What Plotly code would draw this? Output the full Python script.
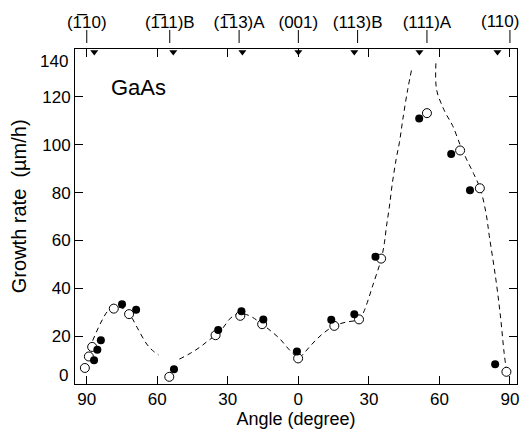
import plotly.graph_objects as go

# ---- data (angle in degrees: negative = toward [-110] side, positive = toward [110] side)
FILLED_ANGLE = [-86.9, -85.5, -84.0, -75.0, -69.0, -52.9, -34.1, -24.2, -14.9, -0.6,
                14.0, 23.8, 32.8, 51.4, 65.0, 73.0, 83.7]
FILLED_RATE = [9.9, 14.3, 18.3, 33.3, 31.0, 6.2, 22.6, 30.4, 27.0, 13.6,
               26.8, 29.2, 53.2, 111.0, 96.1, 81.0, 8.3]

OPEN_ANGLE = [-90.8, -89.1, -87.7, -78.5, -72.0, -54.9, -35.2, -24.7, -15.4, -0.1,
              15.3, 25.8, 35.2, 54.7, 68.8, 77.2, 88.5]
OPEN_RATE = [6.7, 11.5, 15.5, 31.5, 29.2, 3.0, 20.4, 28.5, 25.0, 10.7,
             24.3, 27.0, 52.4, 113.2, 97.6, 81.8, 5.1]

# dashed guide curves (traced)
GUIDE_A_X = [-89.8, -88.3, -86, -83.3, -81, -78.5, -76, -73.5, -71, -68.5, -64.5, -62, -59.5]
GUIDE_A_Y = [11, 16, 21.5, 27, 30.5, 31.8, 32, 31, 28, 23.5, 16.7, 14, 12.2]

GUIDE_B_X = [-50.6, -46, -42, -38.5, -35.2, -32, -29.4, -27, -24.5, -22, -19.4, -15.4, -11.5,
             -7.7, -4.5, -2, 0, 2.5, 5, 7.8, 11, 15.3, 20, 25.8, 27.5, 28.8, 31.6, 35.3,
             36.6, 37.5, 38.7, 40, 41.6, 43, 44.4, 46.5, 48.3]
GUIDE_B_Y = [10.4, 12.8, 15.3, 18, 20.4, 23.5, 27, 28.8, 29.5, 29, 27.8, 25, 22,
             18.7, 15, 12.5, 10.8, 13, 15.8, 18.7, 21.5, 24.3, 25.8, 27, 29.5, 32.6, 41, 52.4,
             59, 66, 74, 84, 94, 101, 110.4, 123, 132]

GUIDE_C_X = [58.5, 58.8, 61.3, 63, 65.6, 68.8, 71.5, 74.5, 77.4, 79.8, 81.2, 84.0, 86, 87.5, 88.6]
GUIDE_C_Y = [134, 123, 116, 112.5, 108, 100, 94, 88, 81.5, 71.5, 62, 43.8, 28, 13.2, 5]

# bottom axis ticks
X_TICKS = [-90, -60, -30, 0, 30, 60, 90]
X_TICKTEXT = ["90", "60", "30", "0", "30", "60", "90"]
Y_TICKS = [0, 20, 40, 60, 80, 100, 120, 140]

# top axis: crystal planes
OVL = "\u0305"
PLANE_ANGLES = [-90, -54.7, -25.2, 0, 25.2, 54.7, 90]
PLANE_LABELS = ["(1" + OVL + "10)", "(1" + OVL + "11)B", "(1" + OVL + "13)A",
                "(001)", "(113)B", "(111)A", "(110)"]
# sample orientation marks (triangles on top axis)
SAMPLE_ANGLES = [-86.8, -53.2, -23.8, 0.0, 23.8, 51.5, 84.7]

X_RANGE = [-95, 93]
Y_RANGE = [0, 140]

FONT = "Liberation Sans, Arial, sans-serif"

fig = go.Figure()

dash_line = dict(color="black", width=1, dash="5px,4px", shape="spline", smoothing=1.0)
for gx, gy in [(GUIDE_A_X, GUIDE_A_Y), (GUIDE_B_X, GUIDE_B_Y), (GUIDE_C_X, GUIDE_C_Y)]:
    fig.add_trace(go.Scatter(x=gx, y=gy, mode="lines", line=dash_line,
                             showlegend=False, hoverinfo="skip"))

fig.add_trace(go.Scatter(x=OPEN_ANGLE, y=OPEN_RATE, mode="markers",
                         marker=dict(symbol="circle", size=9, color="white",
                                     line=dict(color="black", width=1)),
                         showlegend=False))
fig.add_trace(go.Scatter(x=FILLED_ANGLE, y=FILLED_RATE, mode="markers",
                         marker=dict(symbol="circle", size=8, color="black",
                                     line=dict(color="black", width=0)),
                         showlegend=False))

# triangles hanging from the top frame
fig.add_trace(go.Scatter(x=SAMPLE_ANGLES, y=[Y_RANGE[1] - 1.3] * len(SAMPLE_ANGLES),
                         mode="markers", cliponaxis=False,
                         marker=dict(symbol="triangle-down", size=7, color="black"),
                         showlegend=False, hoverinfo="skip"))

# dummy trace for top axis
fig.add_trace(go.Scatter(x=[PLANE_ANGLES[0]], y=[None], xaxis="x2", showlegend=False,
                         hoverinfo="skip"))

# top plane tick marks (detached from the frame)
shapes = [dict(type="line", xref="x", yref="paper", ysizemode="pixel", yanchor=1,
               x0=a, x1=a, y0=6, y1=19, line=dict(color="black", width=1))
          for a in PLANE_ANGLES]

# last plane label is placed so it stays inside the page
top_ticktext = PLANE_LABELS[:-1] + [""]

fig.update_layout(
    width=522, height=435,
    margin=dict(l=75, r=5, t=49, b=51, autoexpand=False),
    paper_bgcolor="white", plot_bgcolor="white",
    font=dict(family=FONT, size=17, color="black"),
    shapes=shapes,
    xaxis=dict(range=X_RANGE, tickvals=X_TICKS, ticktext=X_TICKTEXT,
               ticks="inside", ticklen=8, tickwidth=1, tickcolor="black",
               showline=True, linecolor="black", linewidth=1, mirror="ticks",
               showgrid=False, zeroline=False, automargin=False,
               tickfont=dict(size=17),
               title=dict(text="Angle (degree)", font=dict(size=18), standoff=2)),
    xaxis2=dict(range=X_RANGE, overlaying="x", side="top", anchor="y",
                tickvals=PLANE_ANGLES, ticktext=top_ticktext,
                ticks="outside", ticklen=13, tickwidth=1, tickcolor="rgba(0,0,0,0)",
                showline=False, showgrid=False, zeroline=False, automargin=False,
                tickfont=dict(size=17)),
    yaxis=dict(range=Y_RANGE, tickvals=Y_TICKS[1:-1],
               ticks="inside", ticklen=8, tickwidth=1, tickcolor="black",
               showline=True, linecolor="black", linewidth=1, mirror="ticks",
               showgrid=False, zeroline=False, automargin=False, tickfont=dict(size=17)),
    annotations=[
        dict(text="GaAs", x=-68, y=124, xref="x", yref="y", showarrow=False,
             font=dict(size=22)),
        dict(text="0", x=X_RANGE[0], y=Y_RANGE[0], xref="x", yref="y", showarrow=False,
             xanchor="right", xshift=-5, yshift=9, font=dict(size=17)),
        dict(text="140", x=X_RANGE[0], y=Y_RANGE[1], xref="x", yref="y", showarrow=False,
             xanchor="right", xshift=-5, yshift=-12, font=dict(size=17)),
        dict(text=PLANE_LABELS[-1], x=1.0, y=1.0, xref="paper", yref="paper",
             xanchor="right", yanchor="middle", xshift=4, yshift=28,
             showarrow=False, font=dict(size=17)),
        dict(text="Growth rate  (\u00b5m/h)", x=-0.125, y=0.53, xref="paper", yref="paper",
             xanchor="center", yanchor="middle",
             textangle=-90, showarrow=False, font=dict(size=20)),
    ],
)

fig.write_html("out.html")
